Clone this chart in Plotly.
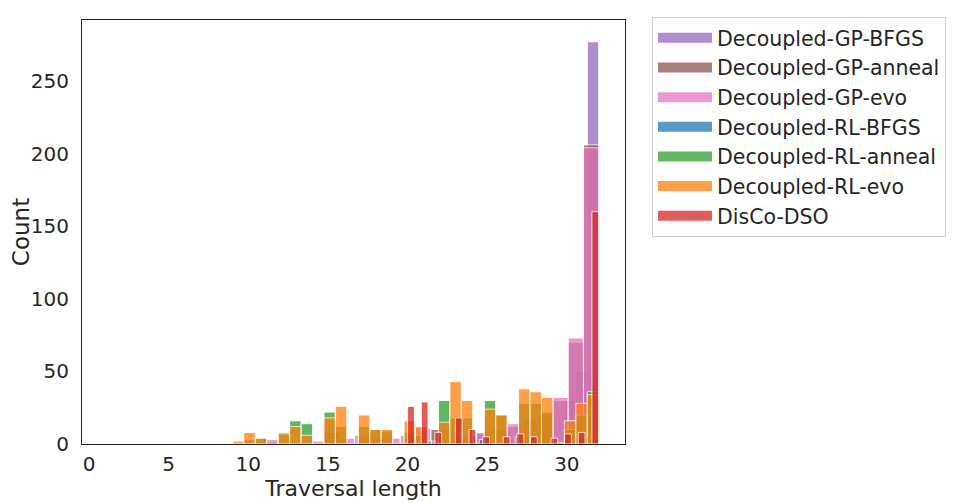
import numpy as np
import plotly.graph_objects as go

# traversal lengths (integer values) and how often each one occurs per method
lengths = list(range(9, 33))

gp_bfgs = [0, 0, 0, 0, 0, 0, 0, 0, 0, 0, 0, 0, 0, 0, 0, 0, 3, 0, 8, 0, 12, 30, 50, 277]
gp_anneal = [0, 0, 3, 0, 0, 0, 8, 0, 0, 0, 0, 0, 0, 10, 0, 6, 7, 0, 12, 0, 0, 30, 70, 206]
gp_evo = [0, 0, 2, 1, 1, 2, 3, 4, 6, 4, 4, 6, 11, 2, 8, 5, 8, 10, 14, 17, 20, 32, 73, 204]
rl_bfgs = [0, 0, 0, 0, 0, 0, 0, 0, 0, 0, 0, 0, 2, 0, 4, 0, 3, 0, 5, 6, 1, 0, 5, 20]
rl_anneal = [0, 3, 4, 8, 16, 14, 22, 12, 12, 10, 9, 8, 6, 30, 18, 18, 30, 20, 28, 28, 22, 10, 20, 36]
rl_evo = [2, 8, 4, 7, 12, 6, 18, 26, 20, 10, 10, 16, 12, 15, 43, 30, 24, 20, 38, 36, 32, 16, 28, 34]
disco_dso = [0, 0, 0, 0, 0, 0, 0, 0, 0, 0, 0, 26, 29, 8, 18, 10, 5, 5, 7, 5, 4, 7, 8, 160]

# name, counts, colour, (bin range, number of bins) as seaborn picked them per run
series = [
    ("Decoupled-GP-BFGS", gp_bfgs, "#9467bd", (9, 32), 32),
    ("Decoupled-GP-anneal", gp_anneal, "#8c564b", (9, 32), 24),
    ("Decoupled-GP-evo", gp_evo, "#e377c2", (9, 32), 24),
    ("Decoupled-RL-BFGS", rl_bfgs, "#1f77b4", (8, 32), 32),
    ("Decoupled-RL-anneal", rl_anneal, "#2ca02c", (9, 32), 32),
    ("Decoupled-RL-evo", rl_evo, "#ff7f0e", (9, 32), 32),
    ("DisCo-DSO", disco_dso, "#d62728", (20, 32), 28),
]

FONT = "DejaVu Sans"
TXT = "#262626"
# the page body adds an 8px margin, so the figure is made smaller to fit the window
W, H = 964, 495


def hex_rgba(h, a):
    h = h.lstrip("#")
    r, g, b = int(h[0:2], 16), int(h[2:4], 16), int(h[4:6], 16)
    return f"rgba({r},{g},{b},{a})"


fig = go.Figure()

for name, counts, color, rng, nbins in series:
    hist, edges = np.histogram(lengths, bins=nbins, range=rng, weights=counts)
    centers = (edges[:-1] + edges[1:]) / 2
    widths = np.diff(edges)
    keep = hist > 0
    fig.add_trace(go.Bar(
        x=centers[keep], y=hist[keep], width=widths[keep],
        marker=dict(color=color, line=dict(color="white", width=1)),
        opacity=0.75, name=name, showlegend=False,
    ))

# legend patches (wide rectangles like matplotlib)
for name, counts, color, rng, nbins in series:
    fig.add_trace(go.Scatter(
        x=[None], y=[None], mode="lines", name=name,
        line=dict(color=hex_rgba(color, 0.75), width=14),
    ))

fig.update_layout(
    width=W, height=H,
    margin=dict(l=74, r=347, t=12, b=59, autoexpand=False),
    barmode="overlay",
    plot_bgcolor="white", paper_bgcolor="white",
    font=dict(family=FONT, color=TXT, size=20),
    legend=dict(
        xref="container", yref="container",
        x=644 / W, y=1 - 9 / H, xanchor="left", yanchor="top",
        bordercolor="#d0d0d0", borderwidth=1, bgcolor="white",
        font=dict(family=FONT, size=20.5, color=TXT),
        itemwidth=54, tracegroupgap=0,
    ),
)
fig.update_xaxes(
    range=[-0.44, 33.65], tickvals=[0, 5, 10, 15, 20, 25, 30],
    showgrid=False, zeroline=False, automargin=False,
    showline=True, mirror=True, linecolor=TXT, linewidth=1.25,
    ticks="outside", ticklen=2, tickcolor="rgba(0,0,0,0)",
    tickfont=dict(size=20, color=TXT),
    title=dict(text="Traversal length", font=dict(size=22, color=TXT), standoff=0),
)
fig.update_yaxes(
    range=[0, 292], tickvals=[0, 50, 100, 150, 200, 250],
    showgrid=False, zeroline=False, automargin=False,
    showline=True, mirror=True, linecolor=TXT, linewidth=1.25,
    ticks="outside", ticklen=8, tickcolor="rgba(0,0,0,0)",
    tickfont=dict(size=20, color=TXT),
    title=dict(text="Count", font=dict(size=23, color=TXT), standoff=14),
)

fig.write_html("out.html")
